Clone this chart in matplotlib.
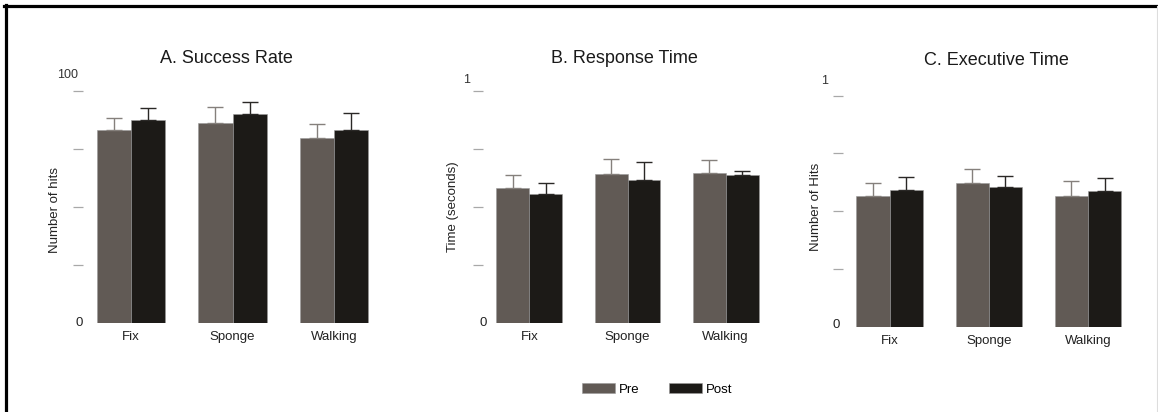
import matplotlib
matplotlib.use('Agg')
import matplotlib.pyplot as plt
from matplotlib.lines import Line2D
from matplotlib.patches import Patch
import numpy as np

plt.rcParams['font.family'] = ['Liberation Sans', 'DejaVu Sans']

W, H = 1158, 412

categories = ['Fix', 'Sponge', 'Walking']
series_names = ['Pre', 'Post']

# A. Success Rate
success_pre = [83.2, 86.3, 79.6]
success_pre_err = [5.0, 6.9, 6.2]
success_post = [87.6, 90.2, 83.3]
success_post_err = [4.9, 5.2, 7.1]

# B. Response Time
response_pre = [0.583, 0.642, 0.646]
response_pre_err = [0.054, 0.065, 0.057]
response_post = [0.554, 0.616, 0.636]
response_post_err = [0.050, 0.079, 0.020]

# C. Executive Time
executive_pre = [0.567, 0.623, 0.567]
executive_pre_err = [0.056, 0.060, 0.064]
executive_post = [0.593, 0.603, 0.587]
executive_post_err = [0.054, 0.051, 0.058]

PRE_COLOR = '#615a55'
POST_COLOR = '#1c1a17'
PRE_ERR = '#85807c'
POST_ERR = '#2a2826'
EDGE = '#9a9a9a'
TICK_GREY = '#a8a8a8'
BAR_W = 0.335

# pixel layout of each panel
panels = [
    dict(title='A. Success Rate', ylabel='Number of hits', ymax=100, top_label='100',
         pre=success_pre, pre_err=success_pre_err, post=success_post, post_err=success_post_err,
         centers=(131, 334), dash_end=83, top=91, base=323,
         title_xy=(226, 63), ylabel_xy=(55, 210), top_lab_xy=(78, 75), zero_xy=(83, 323)),
    dict(title='B. Response Time', ylabel='Time (seconds)', ymax=1, top_label='1',
         pre=response_pre, pre_err=response_pre_err, post=response_post, post_err=response_post_err,
         centers=(529.3, 725.7), dash_end=482.7, top=91, base=322.7,
         title_xy=(624.7, 63), ylabel_xy=(453, 207), top_lab_xy=(470, 80), zero_xy=(487, 322.5)),
    dict(title='C. Executive Time', ylabel='Number of Hits', ymax=1, top_label='1',
         pre=executive_pre, pre_err=executive_pre_err, post=executive_post, post_err=executive_post_err,
         centers=(889.7, 1088), dash_end=842.7, top=95.7, base=326.7,
         title_xy=(996.7, 65), ylabel_xy=(815.8, 207), top_lab_xy=(828, 80.7), zero_xy=(840, 325)),
]

fig = plt.figure(figsize=(W / 100, H / 100), dpi=100)

x = np.arange(len(categories))

for p in panels:
    c0, c2 = p['centers']
    spacing = (c2 - c0) / 2
    left_px = p['dash_end']
    right_px = c2 + 0.36 * spacing
    ax = fig.add_axes([left_px / W, 1 - p['base'] / H,
                       (right_px - left_px) / W, (p['base'] - p['top']) / H])
    ax.set_xlim((left_px - c0) / spacing, 2 + (right_px - c2) / spacing)
    ax.set_ylim(0, p['ymax'])

    ax.bar(x - BAR_W / 2, p['pre'], BAR_W, color=PRE_COLOR, edgecolor=EDGE, linewidth=0.4)
    ax.bar(x + BAR_W / 2, p['post'], BAR_W, color=POST_COLOR, edgecolor=EDGE, linewidth=0.4)
    zeros = [0] * len(categories)
    ax.errorbar(x - BAR_W / 2, p['pre'], yerr=[zeros, p['pre_err']], fmt='none',
                ecolor=PRE_ERR, elinewidth=1.0, capsize=6, capthick=1.0, clip_on=False)
    ax.errorbar(x + BAR_W / 2, p['post'], yerr=[zeros, p['post_err']], fmt='none',
                ecolor=POST_ERR, elinewidth=1.0, capsize=6, capthick=1.0, clip_on=False)

    for s in ax.spines.values():
        s.set_visible(False)
    ax.set_yticks(np.linspace(0, p['ymax'], 5)[1:])
    ax.set_yticklabels([])
    ax.tick_params(axis='y', direction='out', length=7.2, width=0.9, color=TICK_GREY)
    ax.set_xticks(x)
    ax.set_xticklabels(categories, fontsize=9.5, color='#222222')
    ax.tick_params(axis='x', length=0, pad=6)

    fig.text(p['title_xy'][0] / W, 1 - p['title_xy'][1] / H, p['title'],
             ha='center', va='baseline', fontsize=13, color='#1a1a1a')
    fig.text(p['ylabel_xy'][0] / W, 1 - p['ylabel_xy'][1] / H, p['ylabel'],
             ha='center', va='center', rotation=90, fontsize=9.5, color='#222222')
    fig.text(p['top_lab_xy'][0] / W, 1 - p['top_lab_xy'][1] / H, p['top_label'],
             ha='right', va='center', fontsize=9, color='#333333')
    fig.text(p['zero_xy'][0] / W, 1 - p['zero_xy'][1] / H, '0',
             ha='right', va='center', fontsize=9.5, color='#222222')

handles = [Patch(facecolor=PRE_COLOR, edgecolor=EDGE, linewidth=0.4),
           Patch(facecolor=POST_COLOR, edgecolor=EDGE, linewidth=0.4)]
fig.legend(handles, series_names, loc='center', bbox_to_anchor=(657 / W, 1 - 389.5 / H),
           ncol=2, frameon=False, fontsize=9.5, handlelength=2.5, handleheight=0.76,
           handletextpad=0.3, columnspacing=2.2)

# frame around the figure
fig.add_artist(Line2D([4 / W, 1], [1 - 6 / H, 1 - 6 / H], color='black', linewidth=2.3))
fig.add_artist(Line2D([5.5 / W, 5.5 / W], [0, 1 - 4.5 / H], color='black', linewidth=2.3))
fig.add_artist(Line2D([1157 / W, 1157 / W], [0, 1 - 6 / H], color='#dddddd', linewidth=0.8))

fig.savefig('out.png', dpi=100)
